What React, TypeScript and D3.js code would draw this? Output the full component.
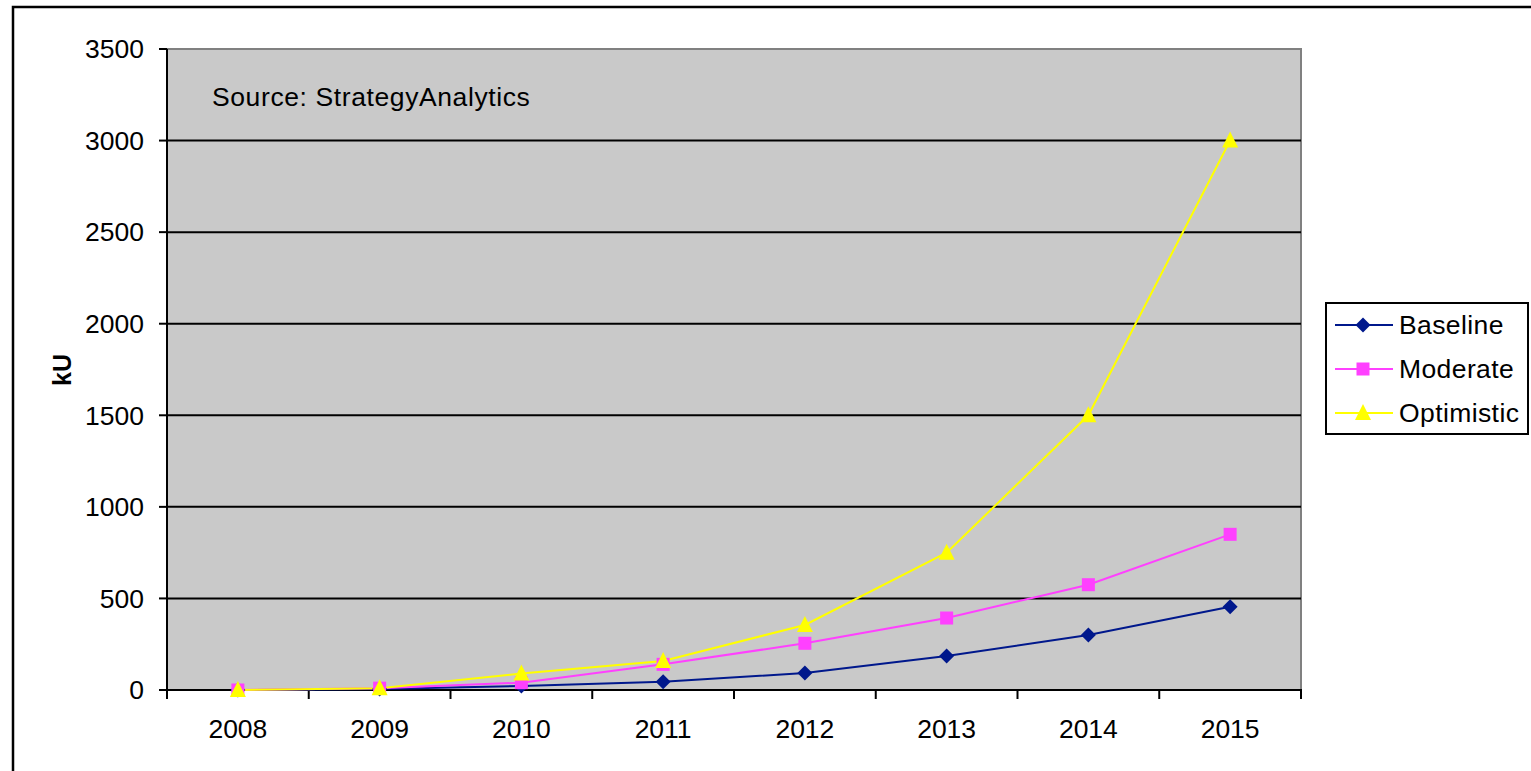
import React from "react";
import * as d3 from "d3";

const years = ["2008", "2009", "2010", "2011", "2012", "2013", "2014", "2015"];
const baseline = [0, 5, 22, 45, 93, 186, 300, 455];
const moderate = [0, 10, 40, 140, 255, 393, 575, 850];
const optimistic = [0, 10, 90, 158, 355, 750, 1500, 3000];
const yTicks = [0, 500, 1000, 1500, 2000, 2500, 3000, 3500];

const seriesList = [
  { name: "Baseline", values: baseline, color: "#00188c", marker: "diamond" },
  { name: "Moderate", values: moderate, color: "#ff40ff", marker: "square" },
  { name: "Optimistic", values: optimistic, color: "#ffff00", marker: "triangle" },
];

const L = 167, R = 1301, T = 49, B = 690;

function Marker({ type, x, y, color }: { type: string; x: number; y: number; color: string }) {
  if (type === "diamond") {
    const s = 7.5;
    return <path d={`M${x},${y - s}L${x + s},${y}L${x},${y + s}L${x - s},${y}Z`} fill={color} />;
  }
  if (type === "square") {
    const s = 6.5;
    return <rect x={x - s} y={y - s} width={2 * s} height={2 * s} fill={color} />;
  }
  const s = 8;
  return <path d={`M${x},${y - s - 1}L${x + s},${y + s - 1}L${x - s},${y + s - 1}Z`} fill={color} />;
}

export default function App() {
  const x = d3.scaleBand().domain(years).range([L, R]).padding(0);
  const y = d3.scaleLinear().domain([0, 3500]).range([B, T]);
  const cx = (d: string) => (x(d) as number) + x.bandwidth() / 2;
  const line = d3
    .line<number>()
    .x((_, i) => cx(years[i]))
    .y((v) => y(v));
  const font = "Arial, 'Liberation Sans', sans-serif";
  const legendY = [325, 369, 413];
  const fs = 26.5;
  return (
    <svg
      width={1531}
      height={771}
      style={{ position: "absolute", left: 0, top: 0 }}
      fontFamily={font}
    >
      <rect x={0} y={0} width={1531} height={771} fill="#fff" />
      <path d="M13,771V7H1531" fill="none" stroke="#000" strokeWidth={2.5} />
      <rect x={L} y={T} width={R - L} height={B - T} fill="#c9c9c9" stroke="#808080" strokeWidth={2} />
      {yTicks.slice(1, -1).map((t) => (
        <line key={t} x1={L} x2={R} y1={y(t)} y2={y(t)} stroke="#000" strokeWidth={2} />
      ))}
      <line x1={L} x2={L} y1={T} y2={B} stroke="#000" strokeWidth={2} />
      <line x1={L} x2={R + 1} y1={B} y2={B} stroke="#000" strokeWidth={2} />
      {yTicks.map((t) => (
        <g key={t}>
          <line x1={L - 8} x2={L} y1={y(t)} y2={y(t)} stroke="#000" strokeWidth={2} />
          <text x={144} y={y(t)} dy="0.35em" textAnchor="end" fontSize={fs}>
            {t}
          </text>
        </g>
      ))}
      {years.map((yr) => (
        <line key={"t" + yr} x1={x(yr)} x2={x(yr)} y1={B} y2={B + 9} stroke="#000" strokeWidth={2} />
      ))}
      <line x1={R} x2={R} y1={B} y2={B + 9} stroke="#000" strokeWidth={2} />
      {years.map((yr) => (
        <text key={"l" + yr} x={cx(yr)} y={738} textAnchor="middle" fontSize={fs}>
          {yr}
        </text>
      ))}
      <text
        transform="translate(71,370) rotate(-90)"
        textAnchor="middle"
        fontSize={25}
        fontWeight="bold"
      >
        kU
      </text>
      <text x={212} y={106} fontSize={fs} letterSpacing={0.6}>
        Source: StrategyAnalytics
      </text>
      {seriesList.map((s) => (
        <path key={s.name} d={line(s.values) as string} fill="none" stroke={s.color} strokeWidth={2} />
      ))}
      {seriesList.map((s) =>
        s.values.map((v, i) => (
          <Marker key={s.name + i} type={s.marker} x={cx(years[i])} y={y(v)} color={s.color} />
        ))
      )}
      <rect x={1326} y={303} width={202} height={131} fill="#fff" stroke="#000" strokeWidth={2} />
      {seriesList.map((s, i) => (
        <g key={"lg" + s.name}>
          <line x1={1335} x2={1393} y1={legendY[i]} y2={legendY[i]} stroke={s.color} strokeWidth={2} />
          <Marker type={s.marker} x={1363} y={legendY[i]} color={s.color} />
          <text x={1399} y={legendY[i]} dy="0.35em" fontSize={fs} letterSpacing={0.4}>
            {s.name}
          </text>
        </g>
      ))}
    </svg>
  );
}
